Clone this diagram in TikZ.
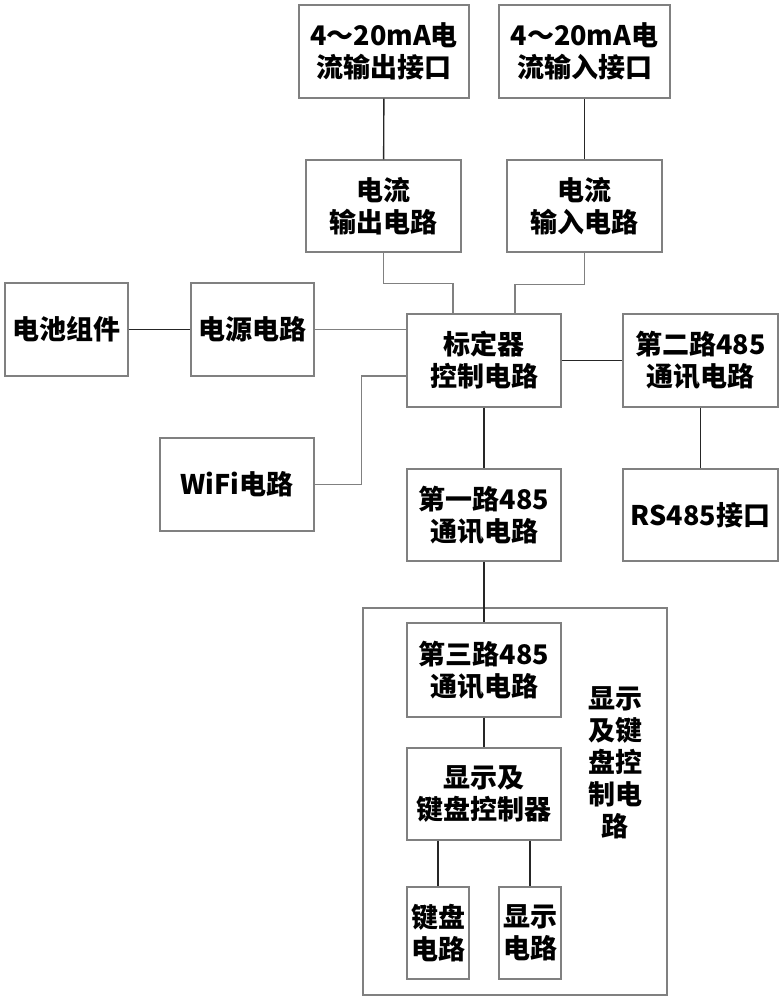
\documentclass[tikz,border=0pt]{standalone}
\usepackage{fontspec}
\setmainfont{Noto Sans CJK SC}
\begin{document}
\begin{tikzpicture}[x=0.5pt,y=-0.5pt,
  box/.style={draw=black!50,line width=0.7pt,align=center,inner sep=0pt,
    font=\fontsize{13.5}{16}\selectfont\bfseries},
  wire/.style={draw=black!85,line width=0.7pt},
  bus/.style={draw=black!50,line width=0.6pt}]
\useasboundingbox (0,0) rectangle (783,1000);

\node[box,minimum width=85pt,minimum height=46.5pt] (1) at (384,51.5) {4～20mA电\\流输出接口};
\node[box,minimum width=85.5pt,minimum height=46.5pt] (2) at (584.5,51.5) {4～20mA电\\流输入接口};
\node[box,minimum width=77.5pt,minimum height=46pt] (3) at (383.5,206) {电流\\输出电路};
\node[box,minimum width=77.5pt,minimum height=46pt] (4) at (584.5,206) {电流\\输入电路};
\node[box,minimum width=61.5pt,minimum height=46.5pt] (5) at (66.5,329.5) {电池组件};
\node[box,minimum width=61.5pt,minimum height=46.5pt] (6) at (252.5,329.5) {电源电路};
\node[box,minimum width=77pt,minimum height=46.5pt] (7) at (484,360.5) {标定器\\控制电路};
\node[box,minimum width=77.5pt,minimum height=46.5pt] (8) at (700.5,360.5) {第二路485\\通讯电路};
\node[box,minimum width=77pt,minimum height=46.5pt] (9) at (237,484.5) {WiFi电路};
\node[box,minimum width=77pt,minimum height=46pt] (10) at (484,515) {第一路485\\通讯电路};
\node[box,minimum width=77.5pt,minimum height=46pt] (11) at (700.5,515) {RS485接口};
\node[box,minimum width=152pt,minimum height=193.5pt] (12) at (515,801.5) {};
\node[box,minimum width=77pt,minimum height=47pt] (13) at (484,670) {第三路485\\通讯电路};
\node[box,minimum width=77pt,minimum height=46pt] (14) at (484,794) {显示及\\键盘控制器};
\node[box,minimum width=31pt,minimum height=46pt] (15) at (438,933) {键盘\\电路};
\node[box,minimum width=31pt,minimum height=46pt] (16) at (530,933) {显示\\电路};
\node[box,draw=none,anchor=center] (17) at (615,763) {显示\\及键\\盘控\\制电\\路};

\path[wire] (1) -- (3);
\path[wire] (2) -- (4);
\path[wire] (5) -- (6);
\path[bus] (6.east) -- (6.east -| 7.west);
\path[bus] (3.south) -- ++(0,31) -| ([xshift=-15.5pt]7.north);
\path[bus] (4.south) -- ++(0,32) -| ([xshift=15.5pt]7.north);
\path[bus] (9.east) -- ++(47,0) |- ([yshift=-7.75pt]7.west);
\path[wire] (7) -- (8);
\path[wire] (7) -- (10);
\path[wire] (8) -- (11);
\path[wire] (10) -- (13);
\path[wire] (13) -- (14);
\path[wire] (14.south -| 15.north) -- (15.north);
\path[wire] (14.south -| 16.north) -- (16.north);
\end{tikzpicture}
\end{document}
